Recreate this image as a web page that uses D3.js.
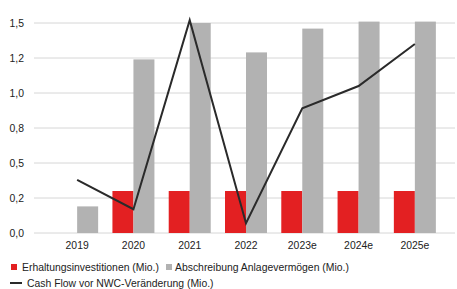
<!DOCTYPE html>
<html lang="de">
<head>
<meta charset="UTF-8">
<title>Cash Flow</title>
<script src="https://cdn.jsdelivr.net/npm/d3@7"></script>
<style>
  body { margin: 0; background: #fff; }
  text { font-family: "Liberation Sans", Arial, sans-serif; fill: #222; }
</style>
</head>
<body>
<svg width="457" height="289"></svg>
<script>
// Daten
var years = ["2019", "2020", "2021", "2022", "2023e", "2024e", "2025e"];
var erhaltung = [0, 0.3, 0.3, 0.3, 0.3, 0.3, 0.3];
var abschreibung = [0.19, 1.24, 1.50, 1.29, 1.46, 1.51, 1.51];
var cashflow = [0.38, 0.17, 1.52, 0.07, 0.89, 1.05, 1.35];
var tickValues = [0, 0.25, 0.5, 0.75, 1.0, 1.25, 1.5];
var tickLabels = ["0,0", "0,2", "0,5", "0,8", "1,0", "1,2", "1,5"];

var svg = d3.select("svg");
var fs = 10.4;

var x = d3.scaleBand().domain(years).range([49, 443]).paddingInner(0).paddingOuter(0);
var y = d3.scaleLinear().domain([0, 1.5]).range([233, 23]);
var bw = 21;

// Gitterlinien
svg.append("g").selectAll("line")
    .data(tickValues)
    .enter()
    .append("line")
    .attr("x1", 34).attr("x2", 455)
    .attr("y1", function(d){ return y(d); })
    .attr("y2", function(d){ return y(d); })
    .style("stroke", "#d6d6d6")
    .style("stroke-width", 1);

// y-Achse Beschriftung
svg.append("g").selectAll("text")
    .data(tickValues)
    .enter()
    .append("text")
    .attr("x", 24)
    .attr("y", function(d){ return y(d); })
    .attr("dy", "0.35em")
    .attr("text-anchor", "end")
    .attr("font-size", fs)
    .text(function(d, i){ return tickLabels[i]; });

// Balken
svg.append("g").selectAll("rect")
    .data(erhaltung)
    .enter()
    .append("rect")
    .attr("x", function(d, i){ return x(years[i]) + x.bandwidth() / 2 - bw; })
    .attr("y", function(d){ return y(d); })
    .attr("width", bw)
    .attr("height", function(d){ return y(0) - y(d); })
    .style("fill", "#e32022");

svg.append("g").selectAll("rect")
    .data(abschreibung)
    .enter()
    .append("rect")
    .attr("x", function(d, i){ return x(years[i]) + x.bandwidth() / 2; })
    .attr("y", function(d){ return y(d); })
    .attr("width", bw)
    .attr("height", function(d){ return y(0) - y(d); })
    .style("fill", "#b2b2b2");

// Linie
var line = d3.line()
    .x(function(d, i){ return x(years[i]) + x.bandwidth() / 2; })
    .y(function(d){ return y(d); });

svg.append("path")
    .datum(cashflow)
    .attr("d", line)
    .style("fill", "none")
    .style("stroke", "#2a2a2a")
    .style("stroke-width", 2);

// x-Achse
svg.append("g")
    .attr("transform", "translate(0,233)")
    .call(d3.axisBottom(x).tickSize(0).tickPadding(9))
    .call(function(g){ g.select(".domain").remove(); })
    .selectAll("text")
    .attr("font-size", fs)
    .style("font-family", "'Liberation Sans', Arial, sans-serif")
    .style("fill", "#222");

// Legende
var legend = svg.append("g");
legend.append("rect").attr("x", 11).attr("y", 264).attr("width", 6).attr("height", 6).style("fill", "#e32022");
legend.append("text").attr("x", 22).attr("y", 267).attr("dy", "0.35em").attr("font-size", fs).text("Erhaltungsinvestitionen (Mio.)");
legend.append("rect").attr("x", 166).attr("y", 264).attr("width", 6).attr("height", 6).style("fill", "#b2b2b2");
legend.append("text").attr("x", 175).attr("y", 267).attr("dy", "0.35em").attr("font-size", fs).text("Abschreibung Anlagevermögen (Mio.)");
legend.append("line").attr("x1", 10).attr("x2", 22).attr("y1", 283).attr("y2", 283).style("stroke", "#2a2a2a").style("stroke-width", 2);
legend.append("text").attr("x", 27).attr("y", 283).attr("dy", "0.35em").attr("font-size", fs).text("Cash Flow vor NWC-Veränderung (Mio.)");
</script>
</body>
</html>
